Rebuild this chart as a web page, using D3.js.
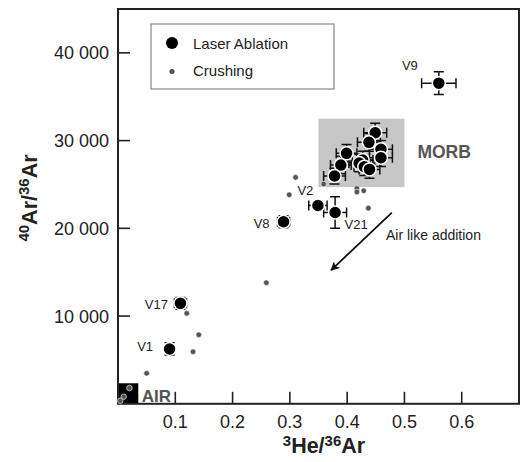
<!DOCTYPE html>
<html>
<head>
<meta charset="utf-8">
<script src="https://cdn.jsdelivr.net/npm/d3@7"></script>
<style>
  body { margin: 0; background: #fff; }
  text { font-family: "Liberation Sans", Arial, sans-serif; }
</style>
</head>
<body>
<div id="chart"></div>
<script>
    var width = 520,
        height = 462;

    // laser ablation (big dots) with errors
    var laserName = ["V9", "V2", "V21", "V8", "V17", "V1",
                     "", "", "", "", "", "", "", "", "", "", ""];
    var laserX    = [0.560, 0.349, 0.379, 0.289, 0.109, 0.090,
                     0.449, 0.438, 0.459, 0.399, 0.459, 0.427, 0.421, 0.389, 0.430, 0.439, 0.378];
    var laserY    = [36550, 22600, 21800, 20750, 11450, 6250,
                     30900, 29800, 29000, 28550, 28050, 27780, 27440, 27210, 27020, 26720, 25960];
    var laserXErr = [0.030, 0.016, 0.020, 0.0105, 0.0105, 0.004,
                     0.020, 0.020, 0.020, 0.018, 0.020, 0.018, 0.018, 0.018, 0.018, 0.018, 0.019];
    var laserYErr = [1300, 500, 1800, 680, 680, 700,
                     1070, 1000, 1000, 1000, 1000, 1000, 1000, 1000, 1000, 1000, 900];

    // crushing (small dots)
    var crushX = [0.310, 0.299, 0.359, 0.417, 0.417, 0.429, 0.437, 0.259,
                  0.120, 0.141, 0.131, 0.050, 0.020, 0.010, 0.004];
    var crushY = [25810, 23830, 25050, 24550, 24150, 24290, 22300, 13800,
                  10310, 7875, 5940, 3475, 1800, 810, 350];

    var xTicks = [0.1, 0.2, 0.3, 0.4, 0.5, 0.6];
    var yTicks = [10000, 20000, 30000, 40000];

    var morbBox = { x0: 0.35, x1: 0.5, y0: 24700, y1: 32500 };
    var airBox = { x1: 0.0354, y1: 2340 };
    var mixArrow = { x0: 0.478, y0: 21780, x1: 0.372, y1: 15230 };

    var x = d3.scaleLinear().domain([0, 0.7]).range([118, 519]);
    var y = d3.scaleLinear().domain([0, 45000]).range([403.8, 9]);

    var fmt = d3.formatLocale({ decimal: ".", thousands: " ", grouping: [3], currency: ["", ""] }).format(",");

    var svg = d3.select("#chart").append("svg")
      .attr("width", width)
      .attr("height", height);

    svg.append("defs").append("marker")
      .attr("id", "head")
      .attr("viewBox", "0 0 10 10")
      .attr("refX", 9).attr("refY", 5)
      .attr("markerWidth", 9).attr("markerHeight", 9)
      .attr("markerUnits", "userSpaceOnUse")
      .attr("orient", "auto")
      .append("path")
      .attr("d", "M0,0 L10,5 L0,10 L2.5,5 Z")
      .attr("fill", "#111");

    // MORB field
    svg.append("rect")
      .attr("x", x(morbBox.x0)).attr("y", y(morbBox.y1))
      .attr("width", x(morbBox.x1) - x(morbBox.x0))
      .attr("height", y(morbBox.y0) - y(morbBox.y1))
      .attr("fill", "#c6c6c6");

    svg.append("text")
      .attr("x", x(morbBox.x1) + 13).attr("y", 157.5)
      .attr("font-size", 17.5).attr("font-weight", "bold")
      .attr("fill", "#555")
      .text("MORB");

    // AIR
    svg.append("rect")
      .attr("x", x(0)).attr("y", y(airBox.y1))
      .attr("width", x(airBox.x1) - x(0))
      .attr("height", y(0) - y(airBox.y1))
      .attr("fill", "#000");

    svg.append("text")
      .attr("x", x(airBox.x1) + 3.5).attr("y", 401.5)
      .attr("font-size", 17).attr("font-weight", "bold")
      .attr("fill", "#555")
      .text("AIR");

    // frame + inner ticks
    var axes = svg.append("g");
    axes.append("rect")
      .attr("x", x(0)).attr("y", y(45000))
      .attr("width", x(0.7) - x(0)).attr("height", y(0) - y(45000))
      .attr("fill", "none").attr("stroke", "#222").attr("stroke-width", 2);

    axes.selectAll(".xt").data(xTicks).enter().append("line")
      .attr("x1", function(d) { return x(d); }).attr("x2", function(d) { return x(d); })
      .attr("y1", y(0)).attr("y2", y(0) - 12)
      .attr("stroke", "#222").attr("stroke-width", 1.6);

    axes.selectAll(".xl").data(xTicks).enter().append("text")
      .attr("x", function(d) { return x(d); }).attr("y", 428)
      .attr("text-anchor", "middle").attr("font-size", 18).attr("fill", "#222")
      .text(function(d) { return d3.format(".1f")(d); });

    axes.selectAll(".yt").data(yTicks).enter().append("line")
      .attr("x1", x(0)).attr("x2", x(0) + 12)
      .attr("y1", function(d) { return y(d); }).attr("y2", function(d) { return y(d); })
      .attr("stroke", "#222").attr("stroke-width", 1.6);

    axes.selectAll(".yl").data(yTicks).enter().append("text")
      .attr("x", 109).attr("y", function(d) { return y(d) + 6.5; })
      .attr("text-anchor", "end").attr("font-size", 18).attr("fill", "#222")
      .text(function(d) { return fmt(d); });

    // axis titles
    var xt = svg.append("text")
      .attr("x", 324).attr("y", 452.5)
      .attr("text-anchor", "middle").attr("font-size", 21.5).attr("font-weight", "bold").attr("fill", "#222");
    xt.append("tspan").attr("font-size", 15).attr("dy", -6.5).text("3");
    xt.append("tspan").attr("dy", 6.5).text("He/");
    xt.append("tspan").attr("font-size", 15).attr("dy", -6.5).text("36");
    xt.append("tspan").attr("dy", 6.5).text("Ar");

    var yt = svg.append("text")
      .attr("transform", "translate(37,198) rotate(-90)")
      .attr("text-anchor", "middle").attr("font-size", 21.5).attr("font-weight", "bold").attr("fill", "#222");
    yt.append("tspan").attr("font-size", 15).attr("dy", -8).text("40");
    yt.append("tspan").attr("dy", 8).text("Ar/");
    yt.append("tspan").attr("font-size", 15).attr("dy", -8).text("36");
    yt.append("tspan").attr("dy", 8).text("Ar");

    // crushing points
    svg.selectAll(".crush").data(crushX).enter().append("circle")
      .attr("cx", function(d) { return x(d); })
      .attr("cy", function(d, i) { return y(crushY[i]); })
      .attr("r", 2.8)
      .attr("fill", "#555")
      .attr("stroke", "#fff").attr("stroke-width", 0.6);

    // laser ablation points
    var laser = laserX.map(function(d, i) {
      return { x: d, y: laserY[i], ex: laserXErr[i], ey: laserYErr[i], name: laserName[i] };
    });

    var cap = 5;
    var eb = svg.selectAll(".eb").data(laser).enter().append("g")
      .attr("stroke", "#111").attr("stroke-width", 1.5);
    eb.append("path")
      .attr("fill", "none")
      .attr("d", function(d) {
        var cx = x(d.x), cy = y(d.y),
            xl = x(d.x - d.ex), xr = x(d.x + d.ex),
            yt = y(d.y + d.ey), yb = y(d.y - d.ey);
        return "M" + xl + "," + cy + "H" + xr +
               "M" + xl + "," + (cy - cap) + "V" + (cy + cap) +
               "M" + xr + "," + (cy - cap) + "V" + (cy + cap) +
               "M" + cx + "," + yt + "V" + yb +
               "M" + (cx - cap) + "," + yt + "H" + (cx + cap) +
               "M" + (cx - cap) + "," + yb + "H" + (cx + cap);
      });

    svg.selectAll(".laser").data(laser).enter().append("circle")
      .attr("cx", function(d) { return x(d.x); })
      .attr("cy", function(d) { return y(d.y); })
      .attr("r", 6.5)
      .attr("fill", "#000")
      .attr("stroke", "#fff").attr("stroke-width", 1.5);

    // sample labels
    var labelPos = {
      V9:  { dx: -21, dy: -18, anchor: "end" },
      V2:  { dx: -20.5, dy: -15, anchor: "start" },
      V21: { dx: 9.5, dy: 11.5, anchor: "start" },
      V8:  { dx: -14, dy: 1.5, anchor: "end" },
      V17: { dx: -12.5, dy: 0.7, anchor: "end" },
      V1:  { dx: -16.5, dy: -2.3, anchor: "end" }
    };
    svg.selectAll(".lab").data(laser.filter(function(d) { return d.name; })).enter().append("text")
      .attr("x", function(d) { return x(d.x) + labelPos[d.name].dx; })
      .attr("y", function(d) { return y(d.y) + labelPos[d.name].dy; })
      .attr("dy", "0.35em")
      .attr("text-anchor", function(d) { return labelPos[d.name].anchor; })
      .attr("font-size", 13).attr("fill", "#222")
      .text(function(d) { return d.name; });

    // air-like addition arrow
    svg.append("line")
      .attr("x1", x(mixArrow.x0)).attr("y1", y(mixArrow.y0))
      .attr("x2", x(mixArrow.x1)).attr("y2", y(mixArrow.y1))
      .attr("stroke", "#111").attr("stroke-width", 1.8)
      .attr("marker-end", "url(#head)");

    svg.append("text")
      .attr("x", 386).attr("y", 240)
      .attr("font-size", 14).attr("fill", "#222")
      .text("Air like addition");

    // legend
    var lg = svg.append("g");
    lg.append("rect")
      .attr("x", 151).attr("y", 24).attr("width", 183).attr("height", 65)
      .attr("fill", "#fff").attr("stroke", "#888").attr("stroke-width", 1.2);
    lg.append("circle").attr("cx", 172).attr("cy", 43).attr("r", 6).attr("fill", "#000");
    lg.append("text").attr("x", 193).attr("y", 48.5).attr("font-size", 15).attr("fill", "#222").text("Laser Ablation");
    lg.append("circle").attr("cx", 172).attr("cy", 71.5).attr("r", 2.6).attr("fill", "#555");
    lg.append("text").attr("x", 193).attr("y", 76).attr("font-size", 15).attr("fill", "#222").text("Crushing");
</script>
</body>
</html>
